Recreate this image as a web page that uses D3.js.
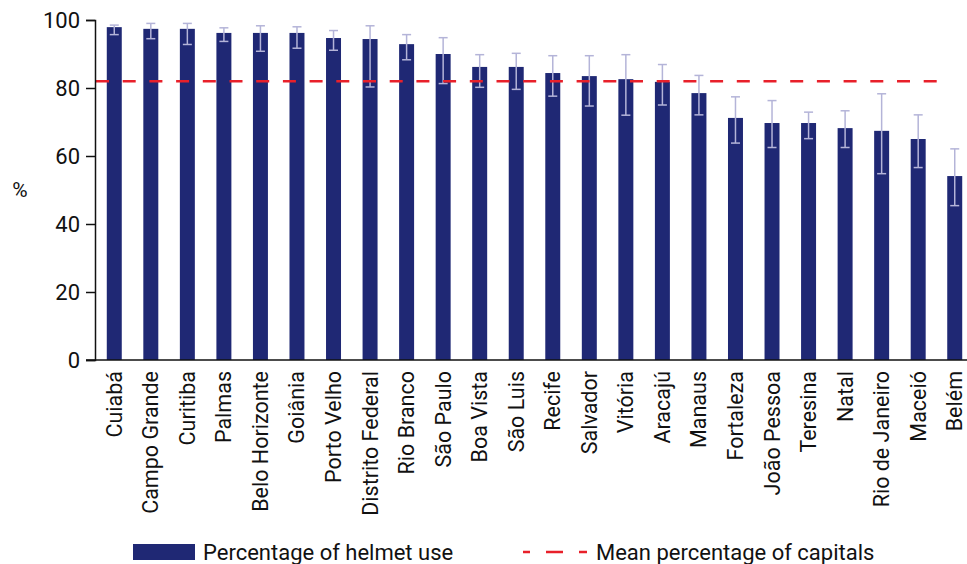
<!DOCTYPE html>
<html>
<head>
<meta charset="utf-8">
<script src="https://cdn.jsdelivr.net/npm/d3@7"></script>
<style>
  body { margin: 0; background: #fff; }
  text { font-family: Roboto, "DejaVu Sans", sans-serif; fill: #111; }
</style>
</head>
<body>
<svg id="chart"></svg>
<script>
// Chart size
const width = 967;
const height = 564;

// Data
const cities = ["Cuiabá", "Campo Grande", "Curitiba", "Palmas", "Belo Horizonte", "Goiânia",
  "Porto Velho", "Distrito Federal", "Rio Branco", "São Paulo", "Boa Vista", "São Luis",
  "Recife", "Salvador", "Vitória", "Aracajú", "Manaus", "Fortaleza", "João Pessoa",
  "Teresina", "Natal", "Rio de Janeiro", "Maceió", "Belém"];
const helmetUse = [97.9, 97.4, 97.4, 96.2, 96.2, 96.2, 94.7, 94.4, 92.9, 90.0, 86.2, 86.2,
  84.4, 83.5, 82.6, 81.8, 78.5, 71.2, 69.7, 69.7, 68.2, 67.4, 65.0, 54.1];
const ciLow = [95.7, 94.5, 92.8, 93.7, 90.8, 91.7, 91.1, 80.3, 88.3, 81.3, 80.2, 79.6,
  77.6, 74.7, 72.0, 75.0, 72.1, 63.8, 62.5, 65.1, 62.5, 54.8, 56.6, 45.4];
const ciHigh = [98.5, 99.0, 99.0, 97.7, 98.3, 98.0, 96.9, 98.3, 95.7, 94.8, 89.8, 90.2,
  89.5, 89.5, 89.8, 86.9, 83.7, 77.4, 76.3, 72.9, 73.3, 78.3, 72.1, 62.1];
const meanCapitals = 82;
const yTicks = [0, 20, 40, 60, 80, 100];

const barColor = "#1f2874";
const errColor = "#b4b4d8";
const meanColor = "#e8202a";

const svg = d3.select("#chart").attr("width", width).attr("height", height);

// Scales
const x = d3.scaleBand()
  .domain(cities)
  .range([96, 973])
  .paddingInner(0.59)
  .paddingOuter(0.295);

const y = d3.scaleLinear().domain([0, 100]).range([360, 20]);

// Bars
svg.selectAll(".bar")
  .data(cities)
  .enter()
  .append("rect")
  .attr("class", "bar")
  .attr("x", (d) => x(d))
  .attr("width", x.bandwidth())
  .attr("y", (d, i) => y(helmetUse[i]))
  .attr("height", (d, i) => y(0) - y(helmetUse[i]))
  .attr("fill", barColor);

// Error bars
const err = svg.selectAll(".err")
  .data(cities)
  .enter()
  .append("g")
  .attr("class", "err")
  .attr("stroke", errColor)
  .attr("stroke-width", 1.5);

const cx = (d) => x(d) + x.bandwidth() / 2;
const cap = 4.5;

err.append("line")
  .attr("x1", cx).attr("x2", cx)
  .attr("y1", (d, i) => y(ciLow[i]))
  .attr("y2", (d, i) => y(ciHigh[i]));
err.append("line")
  .attr("x1", (d) => cx(d) - cap).attr("x2", (d) => cx(d) + cap)
  .attr("y1", (d, i) => y(ciHigh[i])).attr("y2", (d, i) => y(ciHigh[i]));
err.append("line")
  .attr("x1", (d) => cx(d) - cap).attr("x2", (d) => cx(d) + cap)
  .attr("y1", (d, i) => y(ciLow[i])).attr("y2", (d, i) => y(ciLow[i]));

// Mean line
svg.append("line")
  .attr("x1", 96)
  .attr("x2", 950)
  .attr("y1", y(meanCapitals))
  .attr("y2", y(meanCapitals))
  .attr("stroke", meanColor)
  .attr("stroke-width", 2.5)
  .attr("stroke-dasharray", "13,13.7");

// Y axis
const yAxis = svg.append("g")
  .attr("transform", "translate(95,0)")
  .call(d3.axisLeft(y).tickValues(yTicks).tickSize(9).tickPadding(6));
yAxis.select(".domain").attr("stroke", "#111").attr("stroke-width", 1.5);
yAxis.selectAll(".tick line").attr("stroke", "#111").attr("stroke-width", 1.5);
yAxis.selectAll(".tick text")
  .style("font-size", "22px")
  .style("font-family", "Roboto, sans-serif")
  .attr("fill", "#111");

// X axis line
svg.append("line")
  .attr("x1", 86).attr("x2", width)
  .attr("y1", y(0)).attr("y2", y(0))
  .attr("stroke", "#111")
  .attr("stroke-width", 1.5);

// X labels, rotated
svg.selectAll(".xlabel")
  .data(cities)
  .enter()
  .append("text")
  .attr("class", "xlabel")
  .attr("transform", (d) => `translate(${cx(d) + 7.5}, 371) rotate(-90)`)
  .style("text-anchor", "end")
  .style("font-size", "21.5px")
  .text((d) => d);

// Y title
svg.append("text")
  .attr("x", 20)
  .attr("y", 197)
  .style("text-anchor", "middle")
  .style("font-size", "21px")
  .text("%");

// Legend
svg.append("rect")
  .attr("x", 133).attr("y", 544)
  .attr("width", 62).attr("height", 16)
  .attr("fill", barColor);
svg.append("text")
  .attr("x", 203).attr("y", 560)
  .style("font-size", "22px")
  .text("Percentage of helmet use");

svg.append("line")
  .attr("x1", 523).attr("x2", 587)
  .attr("y1", 552).attr("y2", 552)
  .attr("stroke", meanColor)
  .attr("stroke-width", 2.5)
  .attr("stroke-dasharray", "7,16,17,16,8");
svg.append("text")
  .attr("x", 596).attr("y", 560)
  .style("font-size", "22px")
  .text("Mean percentage of capitals");
</script>
</body>
</html>
